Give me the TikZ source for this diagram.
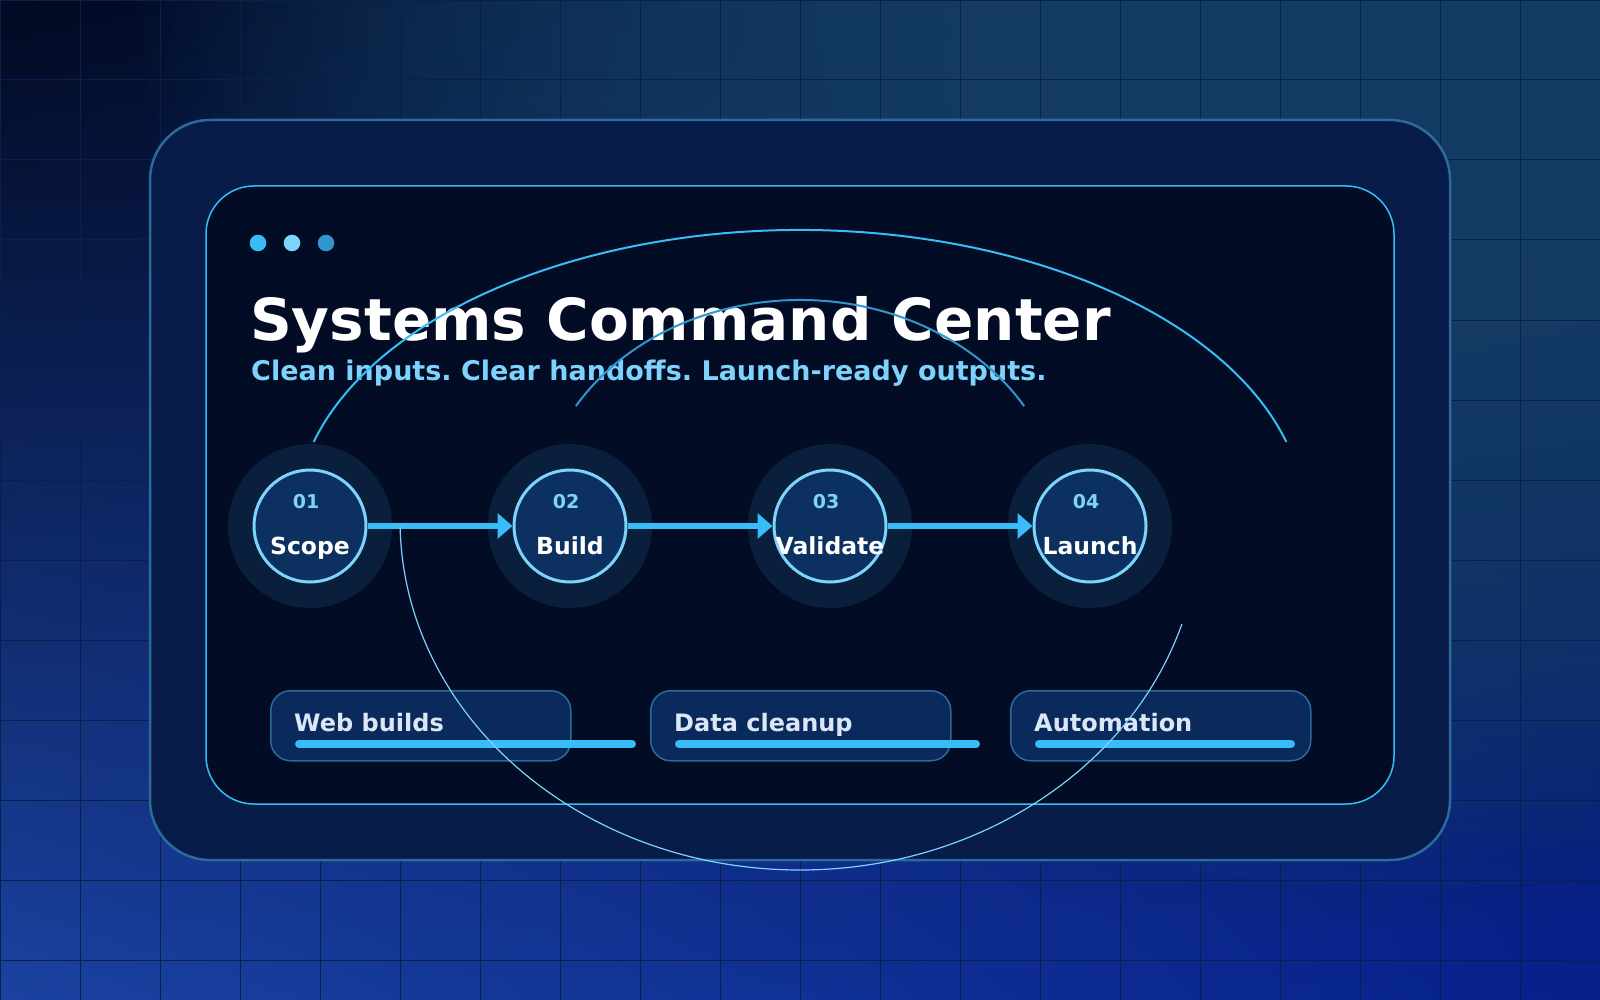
\documentclass[tikz,border=0pt]{standalone}
\usepackage{fontspec}
\setmainfont{DejaVu Sans}
\frenchspacing
\usetikzlibrary{arrows.meta, positioning, fadings, shadings}

\definecolor{bgtl}{HTML}{020A22}
\definecolor{bgtr}{HTML}{08184C}
\definecolor{bgbl}{HTML}{1A42A0}
\definecolor{bgbr}{HTML}{06208C}
\definecolor{glowteal}{HTML}{133C64}
\definecolor{gridline}{HTML}{0B1E50}
\definecolor{outerfill}{HTML}{071C48}
\definecolor{outerline}{HTML}{2B6A9B}
\definecolor{innerfill}{HTML}{020C24}
\definecolor{skymain}{HTML}{38BDF8}
\definecolor{skylight}{HTML}{7DD3FC}
\definecolor{skydeep}{HTML}{2F96D0}
\definecolor{halofill}{HTML}{0A1F3C}
\definecolor{ringfill}{HTML}{0C3160}
\definecolor{cardfill}{HTML}{0A2A5C}
\definecolor{cardtext}{HTML}{DBE6F6}

\tikzfading[name=glowfade, inner color=transparent!0, outer color=transparent!100]

\tikzset{
    panel/.style={
        rounded corners=60pt,
        fill=outerfill,
        draw=outerline,
        line width=2.5pt
    },
    screen/.style={
        rounded corners=48pt,
        fill=innerfill,
        draw=skymain,
        line width=1.5pt
    },
    halo/.style={
        circle,
        fill=halofill,
        minimum size=164pt,
        inner sep=0pt
    },
    ring/.style={
        circle,
        draw=skylight,
        fill=ringfill,
        line width=3pt,
        minimum size=112pt,
        inner sep=0pt
    },
    numtext/.style={
        anchor=base,
        inner sep=0pt,
        text=skylight,
        font=\fontsize{19}{22}\selectfont\bfseries
    },
    steptext/.style={
        anchor=base,
        inner sep=0pt,
        text=white,
        font=\fontsize{23.5}{26}\selectfont\bfseries
    },
    flow/.style={
        draw=skymain,
        line width=6pt,
        -{Triangle[length=15pt,width=25pt]}
    },
    card/.style={
        rectangle,
        rounded corners=20pt,
        draw=outerline,
        fill=cardfill,
        line width=1.5pt,
        minimum width=300pt,
        minimum height=70pt,
        anchor=north west
    },
    cardlabel/.style={
        anchor=base west,
        inner sep=0pt,
        text=cardtext,
        font=\fontsize{24}{27}\selectfont\bfseries
    },
    bar/.style={
        draw=skymain,
        line width=8pt,
        line cap=round
    }
}

\begin{document}
\begin{tikzpicture}[x=1pt, y=-1pt]

\useasboundingbox (0,0) rectangle (1600,1000);

% backdrop
\shade[upper left=bgtl, upper right=bgtr, lower left=bgbl, lower right=bgbr]
    (0,0) rectangle (1600,1000);
\foreach \k in {1,2,3}
    \fill[glowteal, path fading=glowfade] (1380,0) ellipse[x radius=1260pt, y radius=920pt];
\draw[gridline, line width=1pt] (0,0) grid[step=80pt] (1600,1000);

% window
\draw[panel] (150,120) rectangle (1450,860);
\draw[screen] (206,186) rectangle (1394,804);

\fill[skymain]  (258,243) circle (8.3pt);
\fill[skylight] (292,243) circle (8.3pt);
\fill[skydeep]  (326,243) circle (8.3pt);

\node (title) [anchor=base west, inner sep=0pt, text=white,
    font=\fontsize{58}{62}\selectfont\bfseries] at (250,340)
    {Systems Command Center};
\node (subtitle) [anchor=base west, inner sep=0pt, text=skylight,
    font=\fontsize{27}{30}\selectfont\bfseries] at (251,380)
    {Clean inputs. Clear handoffs. Launch-ready outputs.};

% pipeline
\foreach \i/\x/\num/\lab in {1/310/01/Scope, 2/570/02/Build, 3/830/03/Validate, 4/1090/04/Launch} {
    \node (h\i) [halo] at (\x,526) {};
    \node (s\i) [ring] at (\x,526) {};
    \node (n\i) [numtext] at ([xshift=-4pt, yshift=18pt]s\i.center) {\num};
    \node (l\i) [steptext] at ([yshift=-28pt]s\i.center) {\lab};
}
\foreach \a/\b in {1/2, 2/3, 3/4}
    \draw [flow] (s\a) -- (s\b);

% service cards
\foreach \i/\x/\len/\lab in {1/270/333/Web builds, 2/650/297/Data cleanup, 3/1010/252/Automation} {
    \node (c\i) [card] at (\x,690) {};
    \node (t\i) [cardlabel] at (\x+24,731) {\lab};
    \draw [bar] (\x+29,744) -- ++(\len,0);
}

% orbit lines
\coordinate (orbit) at (800,520);
\draw [skymain, line width=2pt] (orbit) ++(164.4:505pt and 290pt)
    arc[start angle=164.4, end angle=15.6, x radius=505pt, y radius=290pt];
\draw [skydeep, line width=2pt] (orbit) ++(148.8:262pt and 220pt)
    arc[start angle=148.8, end angle=31.2, x radius=262pt, y radius=220pt];
\draw [skylight, line width=1.2pt] (orbit) ++(181.1:400pt and 350pt)
    arc[start angle=181.1, end angle=342.7, x radius=400pt, y radius=350pt];

\end{tikzpicture}
\end{document}
